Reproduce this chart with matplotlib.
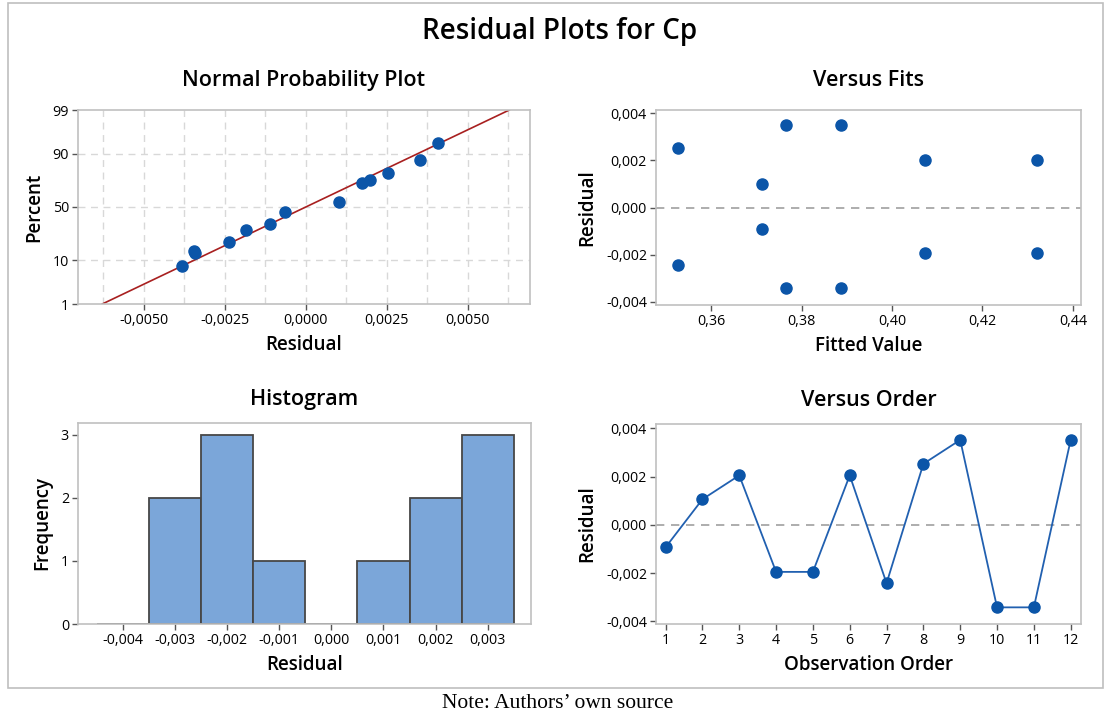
import matplotlib
matplotlib.use("Agg")
import matplotlib.pyplot as plt
from matplotlib.patches import Rectangle
from matplotlib.ticker import FuncFormatter
from statistics import NormalDist
import numpy as np

# normal probability plot (residual, percent)
npp_resid = [-0.00383, -0.00346, -0.00342, -0.00237, -0.00186, -0.00111, -0.00065,
             0.00103, 0.00173, 0.00199, 0.00254, 0.00351, 0.00407]
npp_pct = [7.7, 14.5, 13.4, 20.2, 28.9, 34.5, 44.9, 55.1, 71.4, 74.3, 79.4, 86.8, 93.9]
fit_mean = 0.0
fit_sd = 0.0027

# versus fits
fitted = [0.3527, 0.3527, 0.3713, 0.3713, 0.3766, 0.3766,
          0.3888, 0.3888, 0.4073, 0.4073, 0.4321, 0.4321]
fit_resid = [0.00252, -0.00244, 0.00101, -0.00092, 0.00350, -0.00342,
             0.00350, -0.00342, 0.00204, -0.00194, 0.00204, -0.00194]

# histogram
hist_centers = [-0.004, -0.003, -0.002, -0.001, 0.000, 0.001, 0.002, 0.003]
hist_counts = [0, 2, 3, 1, 0, 1, 2, 3]

# versus order
order = list(range(1, 13))
order_resid = [-0.00093, 0.00106, 0.00205, -0.00195, -0.00195, 0.00205,
               -0.00242, 0.00253, 0.00352, -0.00342, -0.00342, 0.00352]

BLUE = "#0b55a8"
FONT = ["Open Sans", "DejaVu Sans"]
plt.rcParams["font.family"] = FONT

W, H = 1120, 717
fig = plt.figure(figsize=(W / 100, H / 100), dpi=100)


def px_axes(left, top, right, bottom):
    return fig.add_axes([left / W, 1 - bottom / H, (right - left) / W, (bottom - top) / H])


def comma(dec):
    def fmt(v, p):
        if abs(v) < 1e-12:
            v = 0.0
        return f"{v:.{dec}f}".replace(".", ",")
    return FuncFormatter(fmt)


def style(ax, title, xlabel, ylabel, tpad):
    for s in ax.spines.values():
        s.set_color("#c0c0c0")
        s.set_linewidth(1.2)
    ax.tick_params(labelsize=10.3, length=4, width=1, color="#555555", pad=2.5)
    ax.set_title(title, fontsize=15.5, fontweight="semibold", pad=tpad)
    ax.set_xlabel(xlabel, fontsize=13.5, fontweight="semibold", labelpad=5)
    ax.set_ylabel(ylabel, fontsize=13.5, fontweight="semibold", labelpad=6)


# --- Normal probability plot ---
nd = NormalDist()
ax1 = px_axes(78, 110, 530, 304)
pct_ticks = [1, 10, 50, 90, 99]
z_ticks = [nd.inv_cdf(p / 100) for p in pct_ticks]
for gx in np.arange(-0.00625, 0.0063, 0.00125):
    ax1.axvline(gx, color="#d8d8d8", lw=1, ls=(0, (5, 4)), zorder=0)
for gz in z_ticks[1:-1]:
    ax1.axhline(gz, color="#d8d8d8", lw=1, ls=(0, (5, 4)), zorder=0)
zl = np.array([z_ticks[0], z_ticks[-1]])
ax1.plot(fit_mean + fit_sd * zl, zl, color="#a82020", lw=1.2, zorder=2)
ax1.scatter(npp_resid, [nd.inv_cdf(p / 100) for p in npp_pct], s=64, color=BLUE, zorder=3)
ax1.set_xlim(-0.00703, 0.00692)
ax1.set_ylim(z_ticks[0], z_ticks[-1])
ax1.set_yticks(z_ticks)
ax1.set_yticklabels([str(p) for p in pct_ticks])
ax1.set_xticks([-0.005, -0.0025, 0, 0.0025, 0.005])
ax1.xaxis.set_major_formatter(comma(4))
style(ax1, "Normal Probability Plot", "Residual", "Percent", 17.5)

# --- Versus fits ---
ax2 = px_axes(656, 110, 1081, 305)
ax2.axhline(0, color="#a0a0a0", lw=1.2, ls=(0, (5, 4)), zorder=1)
ax2.scatter(fitted, fit_resid, s=64, color=BLUE, zorder=3)
ax2.set_xlim(0.3478, 0.4418)
ax2.set_ylim(-0.00413, 0.00414)
ax2.set_xticks([0.36, 0.38, 0.40, 0.42, 0.44])
ax2.set_yticks([-0.004, -0.002, 0, 0.002, 0.004])
ax2.xaxis.set_major_formatter(comma(2))
ax2.yaxis.set_major_formatter(comma(3))
style(ax2, "Versus Fits", "Fitted Value", "Residual", 17.5)

# --- Histogram ---
ax3 = px_axes(78, 423, 531, 624)
ax3.bar(hist_centers, hist_counts, width=0.001, color="#7ba6d9",
        edgecolor="#474747", linewidth=1.3, zorder=2)
ax3.set_xlim(-0.00486, 0.00383)
ax3.set_ylim(0, 3.185)
ax3.set_xticks(hist_centers)
ax3.set_yticks([0, 1, 2, 3])
ax3.xaxis.set_major_formatter(comma(3))
style(ax3, "Histogram", "Residual", "Frequency", 13)

# --- Versus order ---
ax4 = px_axes(656, 424, 1081, 624)
ax4.axhline(0, color="#a0a0a0", lw=1.2, ls=(0, (5, 4)), zorder=1)
ax4.plot(order, order_resid, color="#2160b0", lw=1.3, marker="o", ms=8,
         mfc=BLUE, mec=BLUE, zorder=3)
ax4.set_xlim(0.739, 12.28)
ax4.set_ylim(-0.00411, 0.00418)
ax4.set_xticks(order)
ax4.set_yticks([-0.004, -0.002, 0, 0.002, 0.004])
ax4.yaxis.set_major_formatter(comma(3))
style(ax4, "Versus Order", "Observation Order", "Residual", 13)

fig.text(560 / W, 1 - 32 / H, "Residual Plots for Cp", ha="center", va="center",
         fontsize=20, fontweight="semibold")
fig.patches.append(Rectangle((8 / W, 1 - 688 / H), (1103 - 8) / W, (688 - 3) / H,
                             transform=fig.transFigure, fill=False,
                             edgecolor="#bfbfbf", lw=1.2))
fig.text(558 / W, 1 - 703 / H, "Note: Authors\u2019 own source", ha="center", va="center",
         fontsize=15.5, family=["Liberation Serif", "DejaVu Serif"])

fig.savefig("out.png", dpi=100)
plt.close(fig)
